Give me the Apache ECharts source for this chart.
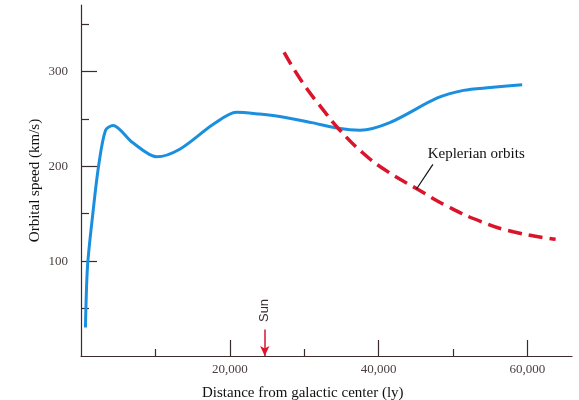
<!DOCTYPE html>
<html>
<head>
<meta charset="utf-8">
<script src="https://cdn.jsdelivr.net/npm/echarts@6/dist/echarts.min.js"></script>
<style>
  html, body { margin: 0; padding: 0; background: #fff; }
  #chart { width: 579px; height: 400px; }
</style>
</head>
<body>
<div id="chart"></div>
<script>
// observed rotation curve (distance ly, speed km/s)
var observedX = [600, 880, 1590, 2360, 3300, 4300, 6930, 10170, 13270, 17740, 20900, 24000, 27100, 31000, 34600, 37500, 41500, 47900, 51400, 55000, 59300]
var observedY = [30, 95, 150, 200, 238, 243, 225, 210, 218, 244, 257, 255, 252, 246, 240, 238, 246, 272, 280, 283, 286]

// keplerian prediction
var keplerX = [27300, 29800, 32500, 34800, 37900, 40900, 45200, 49200, 53700, 58100, 63800]
var keplerY = [320, 288, 260, 238, 214, 196, 176, 158, 142, 131, 123]

var xMajorTicks = [20000, 40000, 60000]
var xMinorTicks = [10000, 30000, 50000]
var yMajorTicks = [100, 200, 300]
var yMinorTicks = [50, 150, 250, 350]

var sunX = 24700
var keplerLabel = 'Keplerian orbits'

var chart = echarts.init(document.getElementById('chart'))

function pairs(xs, ys) {
  return xs.map(function (x, i) { return [x, ys[i]] })
}

var axisColor = '#3a2c2c'
var serif = 'Liberation Serif'

chart.setOption({
  backgroundColor: '#fff',
  animation: false,
  grid: { left: 81, right: 7, top: 5, bottom: 44 },
  title: {
    text: 'Distance from galactic center (ly)',
    left: 197,
    top: 381,
    textStyle: { fontFamily: serif, fontSize: 15, fontWeight: 'normal', color: '#111' }
  },
  xAxis: [
    {
      type: 'value',
      min: 0,
      max: 66000,
      splitLine: { show: false },
      axisLine: { lineStyle: { color: axisColor, width: 1.2 } },
      axisTick: { customValues: xMajorTicks, inside: true, length: 16, lineStyle: { color: axisColor, width: 1.2 } },
      axisLabel: {
        customValues: xMajorTicks,
        margin: 7,
        fontFamily: serif,
        fontSize: 13,
        color: '#4a4040',
        formatter: function (v) { return v.toLocaleString('en-US') }
      }
    },
    {
      type: 'value',
      min: 0,
      max: 66000,
      position: 'bottom',
      splitLine: { show: false },
      axisLine: { show: false },
      axisTick: { customValues: xMinorTicks, inside: true, length: 7, lineStyle: { color: axisColor, width: 1.2 } },
      axisLabel: { show: false }
    }
  ],
  yAxis: [
    {
      type: 'value',
      min: 0,
      max: 370,
      name: 'Orbital speed (km/s)',
      nameLocation: 'middle',
      nameGap: 38,
      nameMoveOverlap: false,
      nameTextStyle: { fontFamily: serif, fontSize: 15, color: '#111' },
      splitLine: { show: false },
      axisLine: { show: true, lineStyle: { color: axisColor, width: 1.2 } },
      axisTick: { customValues: yMajorTicks, inside: true, length: 16, lineStyle: { color: axisColor, width: 1.2 } },
      axisLabel: {
        customValues: yMajorTicks,
        margin: 13,
        fontFamily: serif,
        fontSize: 13,
        color: '#4a4040'
      }
    },
    {
      type: 'value',
      min: 0,
      max: 370,
      position: 'left',
      splitLine: { show: false },
      axisLine: { show: false },
      axisTick: { customValues: yMinorTicks, inside: true, length: 8, lineStyle: { color: axisColor, width: 1.2 } },
      axisLabel: { show: false }
    }
  ],
  series: [
    {
      name: 'Observed',
      type: 'line',
      data: pairs(observedX, observedY),
      smooth: 0.3,
      showSymbol: false,
      lineStyle: { color: '#1b8fdf', width: 3 },
      markLine: {
        silent: true,
        symbol: ['none', 'arrow'],
        symbolSize: [7, 10],
        lineStyle: { color: '#d9142b', width: 1.5, type: 'solid' },
        label: { show: false },
        data: [[{ coord: [sunX, 28] }, { coord: [sunX, 0] }]]
      },
      markPoint: {
        silent: true,
        symbol: 'circle',
        symbolSize: 0,
        label: {
          show: true,
          formatter: 'Sun',
          rotate: 90,
          fontFamily: 'Liberation Sans',
          fontSize: 13,
          color: '#3a2c2c'
        },
        data: [{ coord: [sunX, 48] }]
      }
    },
    {
      name: 'Keplerian',
      type: 'line',
      data: pairs(keplerX, keplerY),
      smooth: 0.5,
      showSymbol: false,
      lineStyle: { color: '#d9142b', width: 3.5, type: [14, 7] },
      markLine: {
        silent: true,
        symbol: ['none', 'none'],
        lineStyle: { color: '#111', width: 1.2, type: 'solid' },
        label: { show: false },
        data: [[{ coord: [45100, 176] }, { coord: [47300, 202] }]]
      },
      markPoint: {
        silent: true,
        symbol: 'circle',
        symbolSize: 0,
        label: {
          show: true,
          formatter: keplerLabel,
          position: 'right',
          distance: 0,
          fontFamily: serif,
          fontSize: 15,
          color: '#111'
        },
        data: [{ coord: [46600, 213] }]
      }
    }
  ]
})
</script>
</body>
</html>
